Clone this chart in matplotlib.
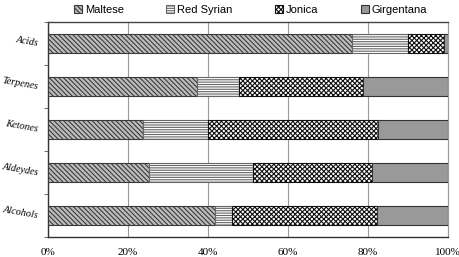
import matplotlib
matplotlib.use("Agg")
import matplotlib.pyplot as plt
import numpy as np
from matplotlib.ticker import FixedLocator, PercentFormatter

categories = ["Acids", "Terpenes", "Ketones", "Aldeydes", "Alcohols"]
series_names = ["Maltese", "Red Syrian", "Jonica", "Girgentana"]
maltese = [76.0, 37.3, 23.7, 25.3, 41.7]
red_syrian = [14.0, 10.5, 16.3, 26.0, 4.3]
jonica = [9.0, 31.0, 42.5, 29.7, 36.3]
girgentana = [1.0, 21.2, 17.5, 19.0, 17.7]
xtick_values = [0, 20, 40, 60, 80, 100]

plt.rcParams['hatch.linewidth'] = 0.8

fig = plt.figure(figsize=(4.6, 2.57), dpi=100)
ax = fig.add_axes([48/460, 1-237/257, 400/460, 215/257])

ypos = np.arange(len(categories))
styles = [
    dict(facecolor="#bdbdbd", hatch="\\\\\\\\\\\\\\", edgecolor="#3a3a3a"),
    dict(facecolor="white", hatch="-------", edgecolor="#666666"),
    dict(facecolor="white", hatch="xxxxxxx", edgecolor="#111111"),
    dict(facecolor="#999999", hatch=None, edgecolor="#333333"),
]
left = np.zeros(len(categories))
handles = []
for name, vals, st in zip(series_names, [maltese, red_syrian, jonica, girgentana], styles):
    b = ax.barh(ypos, vals, left=left, height=0.42, linewidth=0.8, label=name, zorder=3, **st)
    handles.append(b)
    left = left + np.array(vals)

ax.set_xlim(0, 100)
ax.set_ylim(len(categories) - 0.5, -0.5)
ax.set_xticks(xtick_values)
ax.xaxis.set_major_formatter(PercentFormatter(decimals=0))
ax.tick_params(axis='x', length=0, pad=8)
ax.grid(axis='x', color="#999999", linewidth=0.8, zorder=0)

ax.set_yticks(ypos)
ax.set_yticklabels(categories)
ax.yaxis.set_minor_locator(FixedLocator(np.arange(-0.5, len(categories), 1.0)))
ax.tick_params(axis='y', which='major', length=0, pad=7)
ax.tick_params(axis='y', which='minor', length=3, color="#555555")
for lab in ax.get_yticklabels():
    lab.set_family("Liberation Serif")
    lab.set_style("italic")
    lab.set_fontsize(7.3)
    lab.set_rotation(-10)
    lab.set_rotation_mode("anchor")
    lab.set_va("center")
    lab.set_ha("right")
for lab in ax.get_xticklabels():
    lab.set_family("Liberation Serif")
    lab.set_fontsize(8)

for s in ["left", "bottom"]:
    ax.spines[s].set_color("#333333")
    ax.spines[s].set_linewidth(1.0)
ax.spines["top"].set_color("#444444")
ax.spines["top"].set_linewidth(1.0)
ax.spines["right"].set_color("#999999")
ax.spines["right"].set_linewidth(0.8)

leg = fig.legend(handles=handles, labels=series_names, loc="upper center",
                 bbox_to_anchor=(0.545, 1.02), ncol=4, frameon=False,
                 prop={"family": "Liberation Sans", "size": 8},
                 handlelength=0.7, handleheight=0.7, handletextpad=0.3,
                 columnspacing=3.8)

fig.savefig("out.png", dpi=100)
